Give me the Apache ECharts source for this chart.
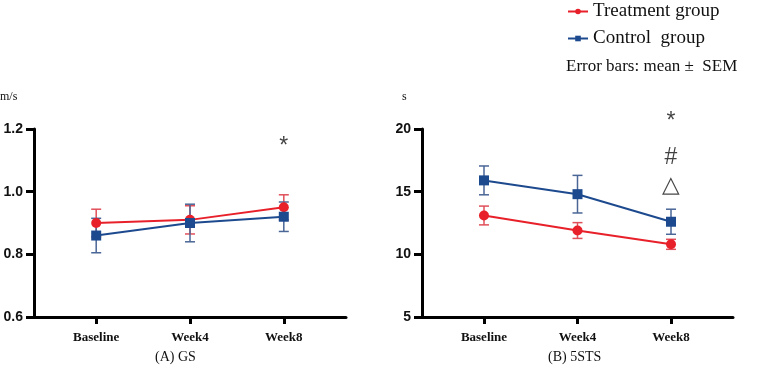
<!DOCTYPE html>
<html>
<head>
<meta charset="utf-8">
<script src="https://cdn.jsdelivr.net/npm/echarts@6/dist/echarts.min.js"></script>
<style>
  html, body { margin: 0; padding: 0; background: #fff; }
  #main { width: 767px; height: 374px; }
</style>
</head>
<body>
<div id="main"></div>
<script>
// timepoints
var categories = ['Baseline', 'Week4', 'Week8'];

// (A) GS, m/s
var gsTreatMean = [0.90, 0.91, 0.95];
var gsTreatSem = [0.044, 0.045, 0.04];
var gsCtrlMean = [0.86, 0.90, 0.92];
var gsCtrlSem = [0.055, 0.06, 0.047];

// (B) 5STS, s
var stsTreatMean = [13.1, 11.9, 10.8];
var stsTreatSem = [0.75, 0.63, 0.4];
var stsCtrlMean = [15.9, 14.8, 12.6];
var stsCtrlSem = [1.15, 1.5, 1.0];

// significance marks at Week8
var gsMarks = [['*', 1.145]];
var stsMarks = [['*', 20.6], ['#', 17.75], ['\u25B3', 15.45]];

var RED = '#e8202a';
var BLUE = '#1d4a8e';
var RED_ERR = '#e0505a';
var BLUE_ERR = '#4a6696';

function points(mean) {
  return mean.map(function (v, i) { return [i, v]; });
}

function errData(mean, sem) {
  return mean.map(function (v, i) { return [i, v - sem[i], v + sem[i]]; });
}

function errorBars(idx, mean, sem, color) {
  return {
    type: 'custom',
    xAxisIndex: idx,
    yAxisIndex: idx,
    z: 1,
    silent: true,
    renderItem: function (params, api) {
      var x = api.value(0);
      var lo = api.coord([x, api.value(1)]);
      var hi = api.coord([x, api.value(2)]);
      var w = 5;
      var style = { stroke: color, lineWidth: 1.5 };
      return {
        type: 'group',
        children: [
          { type: 'line', shape: { x1: lo[0], y1: lo[1], x2: hi[0], y2: hi[1] }, style: style },
          { type: 'line', shape: { x1: hi[0] - w, y1: hi[1], x2: hi[0] + w, y2: hi[1] }, style: style },
          { type: 'line', shape: { x1: lo[0] - w, y1: lo[1], x2: lo[0] + w, y2: lo[1] }, style: style }
        ]
      };
    },
    data: errData(mean, sem)
  };
}

function lineSeries(name, idx, mean, color, symbol, size) {
  return {
    name: name,
    type: 'line',
    xAxisIndex: idx,
    yAxisIndex: idx,
    z: 3,
    symbol: symbol,
    symbolSize: size,
    showSymbol: true,
    itemStyle: { color: color },
    lineStyle: { color: color, width: 2 },
    data: points(mean)
  };
}

function markSeries(idx, marks) {
  return {
    type: 'scatter',
    xAxisIndex: idx,
    yAxisIndex: idx,
    symbolSize: 0,
    clip: false,
    silent: true,
    label: {
      show: true,
      position: 'inside',
      formatter: function (p) { return p.data[2]; },
      color: '#111',
      fontFamily: 'Liberation Sans',
      fontSize: 23
    },
    data: marks.map(function (m) { return [2, m[1], m[0]]; })
  };
}

function xAxis(idx) {
  return {
    type: 'value',
    gridIndex: idx,
    min: -0.663,
    max: 2.663,
    splitLine: { show: false },
    axisLine: { show: true, onZero: false, lineStyle: { color: '#000', width: 3 } },
    axisTick: { show: true, length: 7, customValues: [0, 1, 2], lineStyle: { color: '#000', width: 3 } },
    axisLabel: {
      customValues: [0, 1, 2],
      margin: 14,
      formatter: function (v) { return categories[Math.round(v)]; },
      color: '#111',
      fontFamily: 'Liberation Serif',
      fontWeight: 'bold',
      fontSize: 13
    }
  };
}

function yAxis(idx, min, max, interval, digits) {
  return {
    type: 'value',
    gridIndex: idx,
    min: min,
    max: max,
    interval: interval,
    splitLine: { show: false },
    axisLine: { show: true, onZero: false, lineStyle: { color: '#000', width: 3 } },
    axisTick: { show: true, length: 8, lineStyle: { color: '#000', width: 3 } },
    axisLabel: {
      margin: 11,
      formatter: function (v) { return v.toFixed(digits); },
      color: '#111',
      fontFamily: 'Liberation Sans',
      fontWeight: 'bold',
      fontSize: 14
    }
  };
}

var chart = echarts.init(document.getElementById('main'));
chart.setOption({
  animation: false,
  backgroundColor: '#fff',
  grid: [
    { left: 34, right: 421, top: 129, bottom: 57 },
    { left: 422, right: 34, top: 129, bottom: 57 }
  ],
  legend: {
    orient: 'vertical',
    left: 562,
    top: -3,
    itemGap: 8,
    itemWidth: 20,
    itemHeight: 7,
    data: ['Treatment group', 'Control  group'],
    textStyle: { fontFamily: 'Liberation Serif', fontSize: 19, color: '#111' }
  },
  xAxis: [xAxis(0), xAxis(1)],
  yAxis: [yAxis(0, 0.6, 1.2, 0.2, 1), yAxis(1, 5, 20, 5, 0)],
  graphic: [
    { type: 'text', left: 566, top: 58, style: { text: 'Error bars: mean \u00B1  SEM', font: '17px "Liberation Serif"', fill: '#111' } },
    { type: 'text', left: 0, top: 91, style: { text: 'm/s', font: '12px "Liberation Serif"', fill: '#111' } },
    { type: 'text', left: 402, top: 91, style: { text: 's', font: '12px "Liberation Serif"', fill: '#111' } },
    { type: 'text', left: 155, top: 350, style: { text: '(A) GS', font: '14px "Liberation Serif"', fill: '#111' } },
    { type: 'text', left: 548, top: 350, style: { text: '(B) 5STS', font: '14px "Liberation Serif"', fill: '#111' } }
  ],
  series: [
    errorBars(0, gsTreatMean, gsTreatSem, RED_ERR),
    errorBars(0, gsCtrlMean, gsCtrlSem, BLUE_ERR),
    lineSeries('Treatment group', 0, gsTreatMean, RED, 'circle', 10),
    lineSeries('Control  group', 0, gsCtrlMean, BLUE, 'rect', 10),
    markSeries(0, gsMarks),
    errorBars(1, stsTreatMean, stsTreatSem, RED_ERR),
    errorBars(1, stsCtrlMean, stsCtrlSem, BLUE_ERR),
    lineSeries('Treatment group', 1, stsTreatMean, RED, 'circle', 10),
    lineSeries('Control  group', 1, stsCtrlMean, BLUE, 'rect', 10),
    markSeries(1, stsMarks)
  ]
});
</script>
</body>
</html>
